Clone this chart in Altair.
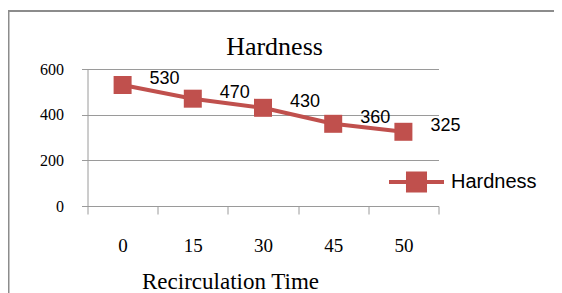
import altair as alt
import pandas as pd

categories = ["0", "15", "30", "45", "50"]
hardness = [530, 470, 430, 360, 325]
series = ["Hardness"] * 5
y_ticks = [0, 200, 400, 600]

df = pd.DataFrame({"time": categories, "value": hardness, "series": series})
frame_df = pd.DataFrame({"k": [0]})

RED = "#C0504D"
GRAY = "#9a9a9a"
SERIF = "Liberation Serif"
SANS = "Liberation Sans"

x_enc = alt.X(
    "time:N",
    sort=categories,
    scale=alt.Scale(paddingInner=0, paddingOuter=0),
    axis=alt.Axis(
        title="Recirculation Time",
        labelAngle=0,
        labelFont=SERIF,
        labelFontSize=19,
        labelColor="black",
        labelBaseline="middle",
        labelPadding=31,
        tickBand="extent",
        tickSize=8,
        tickColor=GRAY,
        domainColor=GRAY,
        titleFont=SERIF,
        titleFontSize=23,
        titleFontWeight="normal",
        titleColor="black",
        titleX=142.5,
        titleY=82,
        titleBaseline="alphabetic",
        titleAlign="center",
        grid=False,
    ),
)
y_enc = alt.Y(
    "value:Q",
    scale=alt.Scale(domain=[0, 600]),
    axis=alt.Axis(
        title=None,
        values=y_ticks,
        labelFont=SERIF,
        labelFontSize=16,
        labelColor="black",
        labelPadding=18,
        tickSize=6,
        tickColor=GRAY,
        domainColor=GRAY,
        gridColor=GRAY,
        grid=True,
    ),
)

base = alt.Chart(df)

frame = alt.Chart(frame_df).mark_rect(
    fill=None, stroke="#8c8c8c", strokeWidth=2, clip=False
).encode(
    x=alt.value(-79),
    x2=alt.value(700),
    y=alt.value(-58),
    y2=alt.value(500),
)

line = base.mark_line(strokeWidth=4).encode(
    x=x_enc,
    y=y_enc,
    color=alt.Color(
        "series:N",
        scale=alt.Scale(domain=["Hardness"], range=[RED]),
        legend=alt.Legend(
            title=None,
            orient="none",
            legendX=299.5,
            legendY=83.5,
            padding=0,
            symbolType="M-1,0H1M-0.31,-0.31H0.31V0.31H-0.31Z",
            symbolSize=3025,
            symbolStrokeWidth=4,
            symbolFillColor=RED,
            symbolStrokeColor=RED,
            labelFont=SANS,
            labelFontSize=20,
            labelColor="black",
            labelOffset=5,
        ),
    ),
)

points = base.mark_square(size=324, color=RED, opacity=1, filled=True).encode(
    x="time:N", y="value:Q"
)

labels = base.mark_text(
    font=SANS, fontSize=18, color="black", dx=42, dy=-6, align="center", baseline="middle"
).encode(x="time:N", y="value:Q", text="value:Q")

chart = (
    alt.layer(frame, line, points, labels)
    .properties(
        width=351,
        height=137,
        autosize=alt.AutoSizeParams(type="none"),
        padding={"left": 79.5, "top": 61, "right": 115.5, "bottom": 87},
        title=alt.TitleParams(
            "Hardness",
            font=SERIF,
            fontSize=26,
            fontWeight="normal",
            color="black",
            anchor="middle",
            frame="group",
            dx=11.5,
            offset=0,
            dy=71,
            baseline="alphabetic",
        ),
    )
    .configure_view(stroke=None)
)

chart.save("out.html", embed_options={"renderer": "svg", "actions": False})
